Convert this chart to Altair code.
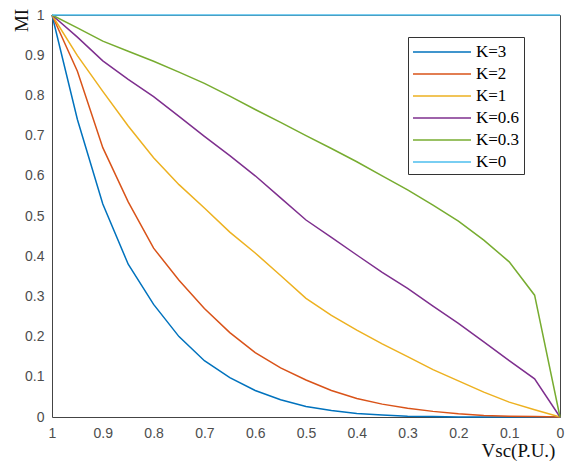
import altair as alt
import pandas as pd

xs = [1, 0.95, 0.9, 0.85, 0.8, 0.75, 0.7, 0.65, 0.6, 0.55, 0.5, 0.45, 0.4, 0.35, 0.3, 0.25, 0.2, 0.15, 0.1, 0.05, 0]
k3 = [1, 0.74, 0.53, 0.38, 0.28, 0.20, 0.14, 0.098, 0.066, 0.043, 0.026, 0.016, 0.009, 0.005, 0.002, 0.001, 0, 0, 0, 0, 0]
k2 = [1, 0.86, 0.67, 0.535, 0.42, 0.34, 0.27, 0.21, 0.16, 0.122, 0.092, 0.066, 0.046, 0.032, 0.022, 0.014, 0.008, 0.004, 0.002, 0.001, 0]
k1 = [1, 0.899, 0.81, 0.724, 0.645, 0.578, 0.52, 0.46, 0.408, 0.352, 0.295, 0.253, 0.216, 0.182, 0.15, 0.118, 0.09, 0.062, 0.037, 0.018, 0]
k06 = [1, 0.945, 0.886, 0.84, 0.797, 0.748, 0.698, 0.65, 0.60, 0.545, 0.49, 0.447, 0.403, 0.36, 0.32, 0.276, 0.233, 0.187, 0.14, 0.095, 0]
k03 = [1, 0.968, 0.935, 0.91, 0.885, 0.858, 0.83, 0.798, 0.765, 0.733, 0.70, 0.668, 0.635, 0.60, 0.565, 0.527, 0.487, 0.44, 0.386, 0.303, 0]
k0 = [1] * len(xs)

labels = ["K=3", "K=2", "K=1", "K=0.6", "K=0.3", "K=0"]
series = [k3, k2, k1, k06, k03, k0]
colors = ["#0072BD", "#D95319", "#EDB120", "#7E2F8E", "#77AC30", "#4DBEEE"]
x_ticks = [1, 0.9, 0.8, 0.7, 0.6, 0.5, 0.4, 0.3, 0.2, 0.1, 0]
y_ticks = [0, 0.1, 0.2, 0.3, 0.4, 0.5, 0.6, 0.7, 0.8, 0.9, 1]

rows = []
for lab, ys, order in zip(labels, series, range(len(labels))):
    for i, (x, y) in enumerate(zip(xs, ys)):
        rows.append({"K": lab, "x": x, "y": y, "i": i, "o": order})
df = pd.DataFrame(rows)

xscale = alt.Scale(domain=[1, 0], nice=False)
yscale = alt.Scale(domain=[0, 1], nice=False)
serif = "Liberation Serif, Times New Roman, serif"

frame = alt.Chart(df).mark_line(strokeOpacity=0).encode(
    x=alt.X("x:Q", scale=xscale,
            axis=alt.Axis(orient="top", labels=False, ticks=False, grid=False, title=None,
                          domainColor="#444")),
    y=alt.Y("y:Q", scale=yscale,
            axis=alt.Axis(orient="right", labels=False, ticks=False, grid=False, title=None,
                          domainColor="#444")),
    detail="o:N",
)

lines = alt.Chart(df).mark_line(strokeWidth=1.5).encode(
    x=alt.X("x:Q", scale=xscale,
            axis=alt.Axis(values=x_ticks, format="~g", title="Vsc(P.U.)",
                          titleX=466, titleY=33, titleAlign="center", titleBaseline="middle",
                          titleFont=serif, titleFontSize=19, titleFontWeight="normal",
                          titleColor="#111",
                          labelFont="Liberation Sans", labelFontSize=14, labelColor="#4d4d4d",
                          labelPadding=9, labelFlush=False, ticks=False,
                          domainColor="#444", gridColor="#dddddd")),
    y=alt.Y("y:Q", scale=yscale,
            axis=alt.Axis(values=y_ticks, format="~g", title="MI",
                          titleAngle=270, titleX=-31, titleY=5, titleAlign="center",
                          titleBaseline="middle",
                          titleFont=serif, titleFontSize=19, titleFontWeight="normal",
                          titleColor="#111",
                          labelFont="Liberation Sans", labelFontSize=14, labelColor="#4d4d4d",
                          labelPadding=8, ticks=False,
                          domainColor="#444", gridColor="#dddddd")),
    color=alt.Color("K:N",
                    scale=alt.Scale(domain=labels, range=colors),
                    legend=alt.Legend(title=None, orient="none", legendX=356, legendY=22,
                                      symbolType="M-2.9,0H2.9", symbolSize=400,
                                      symbolStrokeWidth=1.5, symbolOffset=19,
                                      labelFont=serif, labelFontSize=17,
                                      labelColor="#000", labelOffset=23,
                                      strokeColor="#333", fillColor="#ffffff", padding=4,
                                      rowPadding=3)),
    order=alt.Order("i:Q"),
    detail="o:N",
)

chart = alt.layer(frame, lines).resolve_scale(
    x="independent", y="independent"
).properties(
    width=508, height=402,
    autosize=alt.AutoSizeParams(type="none"),
    padding={"left": 44, "top": 7, "right": 5, "bottom": 44},
).configure_view(stroke="transparent").configure_legend(
    labelFont=serif, labelFontSize=17, labelColor="#000"
)

chart.save("out.html", embed_options={"renderer": "svg", "actions": False})
